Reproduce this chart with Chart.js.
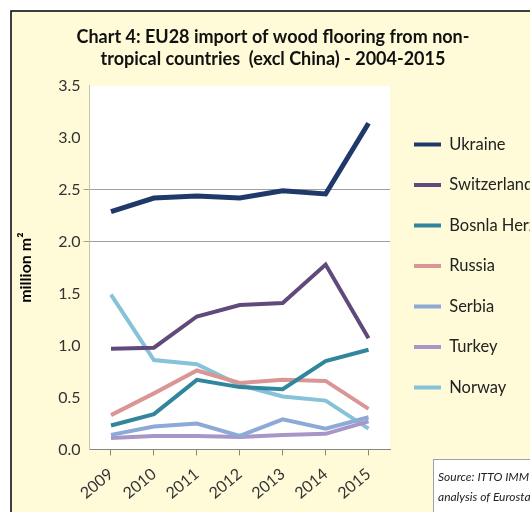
<!DOCTYPE html>
<html>
<head>
<meta charset="utf-8">
<script src="https://cdn.jsdelivr.net/npm/chart.js@4"></script>
<style>
  html, body { margin: 0; padding: 0; background: #fff; overflow: hidden; }
  #wrap { position: relative; width: 530px; height: 512px; }
</style>
</head>
<body>
<div id="wrap"><canvas id="woodChart" width="530" height="512"></canvas></div>
<script>
const years = ['2009', '2010', '2011', '2012', '2013', '2014', '2015'];
const ukraine = [2.29, 2.42, 2.44, 2.42, 2.49, 2.46, 3.14];
const switzerland = [0.97, 0.98, 1.28, 1.39, 1.41, 1.78, 1.07];
const bosnia = [0.23, 0.34, 0.67, 0.60, 0.58, 0.85, 0.96];
const russia = [0.33, 0.54, 0.76, 0.64, 0.67, 0.66, 0.39];
const serbia = [0.14, 0.22, 0.25, 0.13, 0.29, 0.20, 0.31];
const turkey = [0.11, 0.13, 0.13, 0.12, 0.14, 0.15, 0.27];
const norway = [1.49, 0.86, 0.82, 0.62, 0.51, 0.47, 0.20];
const gridValues = [2.0, 2.5];

const FONT = 'Lato, "Open Sans", sans-serif';

function line(label, data, color, width) {
    return {
        label: label,
        data: data,
        borderColor: color,
        backgroundColor: color,
        borderWidth: width,
        pointRadius: 0,
        tension: 0
    };
}

// fondo amarillo con borde, area del grafico en blanco
const frame = {
    id: 'frame',
    beforeDraw(chart) {
        const c = chart.ctx;
        const a = chart.chartArea;
        c.save();
        c.fillStyle = '#ffffff';
        c.fillRect(0, 0, chart.width, chart.height);
        c.fillStyle = '#fffad8';
        c.fillRect(11, 11, chart.width, chart.height);
        c.strokeStyle = '#000000';
        c.lineWidth = 1.5;
        c.strokeRect(11, 11, chart.width + 10, chart.height + 10);
        c.fillStyle = '#ffffff';
        c.fillRect(a.left, a.top, a.right - a.left, a.bottom - a.top);
        c.restore();
    },
    afterDraw(chart) {
        const c = chart.ctx;
        c.save();
        c.fillStyle = '#ffffff';
        c.fillRect(433, 459, 120, 80);
        c.strokeStyle = '#a0a0a0';
        c.lineWidth = 1;
        c.strokeRect(433.5, 459.5, 120, 80);
        c.fillStyle = '#222222';
        c.font = 'italic 12px "Liberation Sans Narrow", ' + FONT;
        c.textBaseline = 'middle';
        c.fillText('Source: ITTO IMM', 438, 477);
        c.fillText('analysis of Eurostat', 438, 497);
        c.restore();
    }
};

const ctx = document.getElementById('woodChart').getContext('2d');
const chart = new Chart(ctx, {
    type: 'line',
    data: {
        labels: years,
        datasets: [
            line('Ukraine', ukraine, '#1f3a6a', 5),
            line('Switzerland', switzerland, '#604a7b', 4),
            line('Bosnla Herz.', bosnia, '#31859c', 4),
            line('Russia', russia, '#d99694', 4),
            line('Serbia', serbia, '#8da9d6', 4),
            line('Turkey', turkey, '#a996c8', 4),
            line('Norway', norway, '#86c3d8', 4)
        ]
    },
    options: {
        responsive: false,
        animation: false,
        layout: { padding: { left: 16, right: 0, top: 0, bottom: 0 } },
        plugins: {
            title: {
                display: true,
                text: ['Chart 4: EU28 import of wood flooring from non-', 'tropical countries  (excl China) - 2004-2015'],
                color: '#111111',
                font: { family: FONT, size: 18, weight: 'bold', lineHeight: 1.22 },
                padding: { top: 26, bottom: 16 }
            },
            legend: {
                position: 'right',
                maxWidth: 140,
                title: { display: true, text: ' ', font: { size: 12, lineHeight: 1 }, padding: 4 },
                labels: {
                    color: '#222222',
                    font: { family: FONT, size: 16.5 },
                    boxWidth: 27,
                    boxHeight: 4,
                    padding: 24,
                    generateLabels(chart) {
                        const items = Chart.defaults.plugins.legend.labels.generateLabels(chart);
                        items.forEach(it => { it.lineWidth = 0; });
                        return items;
                    }
                }
            },
            tooltip: { enabled: false }
        },
        scales: {
            x: {
                offset: true,
                grid: {
                    drawOnChartArea: false,
                    color: '#868686',
                    tickLength: 6
                },
                border: { color: '#868686' },
                ticks: {
                    color: '#333333',
                    font: { family: FONT, size: 16 },
                    padding: 9,
                    minRotation: 40,
                    maxRotation: 40
                }
            },
            y: {
                min: 0,
                max: 3.5,
                ticks: {
                    stepSize: 0.5,
                    color: '#333333',
                    font: { family: FONT, size: 16 },
                    callback: v => v.toFixed(1)
                },
                grid: {
                    color: c => gridValues.includes(c.tick && c.tick.value) ? '#a0a0a0' : 'rgba(0,0,0,0)',
                    tickLength: 6
                },
                border: { color: '#c8c4a8' },
                title: {
                    display: true,
                    text: 'million m²',
                    color: '#000000',
                    font: { family: FONT, size: 16, weight: 'bold' },
                    padding: { top: 0, bottom: 20 }
                }
            }
        }
    },
    plugins: [frame]
});
</script>
</body>
</html>
